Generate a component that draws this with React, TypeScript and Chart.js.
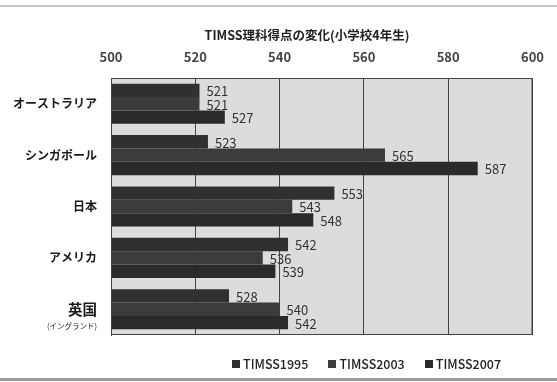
import React, { useEffect, useRef } from "react";
import { Chart, registerables } from "chart.js";

Chart.register(...registerables);

const TITLE = "TIMSS理科得点の変化(小学校4年生)";
const categories = ["オーストラリア", "シンガポール", "日本", "アメリカ", "英国"];
const subLabel = "(イングランド)";
const seriesNames = ["TIMSS1995", "TIMSS2003", "TIMSS2007"];
const timss1995 = [521, 523, 553, 542, 528];
const timss2003 = [521, 565, 543, 536, 540];
const timss2007 = [527, 587, 548, 539, 542];
const barColors = ["#303030", "#3b3b3b", "#2a2a2a"];
const xMin = 500;
const xMax = 600;
const xStep = 20;

const FONT = "'Noto Sans CJK JP', 'Noto Sans', sans-serif";

export default function App() {
  const ref = useRef<HTMLCanvasElement | null>(null);

  useEffect(() => {
    const canvas = ref.current;
    if (!canvas) return;

    const decor = {
      id: "decor",
      beforeDraw(chart: any) {
        const { ctx, chartArea: a } = chart;
        ctx.save();
        ctx.fillStyle = "#dcdcdc";
        ctx.fillRect(a.left, a.top, a.right - a.left, a.bottom - a.top);
        ctx.restore();
      },
      afterDatasetsDraw(chart: any) {
        const { ctx, chartArea: a } = chart;
        ctx.save();
        ctx.strokeStyle = "#444";
        ctx.lineWidth = 1;
        ctx.strokeRect(a.left + 0.5, a.top + 0.5, a.right - a.left - 1, a.bottom - a.top - 1);
        // data labels
        ctx.font = `13px ${FONT}`;
        ctx.fillStyle = "#333";
        ctx.textAlign = "left";
        ctx.textBaseline = "middle";
        chart.data.datasets.forEach((ds: any, di: number) => {
          const meta = chart.getDatasetMeta(di);
          meta.data.forEach((el: any, i: number) => {
            ctx.fillText(String(ds.data[i]), el.x + 7, el.y + 1);
          });
        });
        // title
        ctx.font = `bold 12.5px ${FONT}`;
        ctx.fillStyle = "#222";
        ctx.textAlign = "center";
        ctx.fillText(TITLE, 307, 35);
        // sub label for England
        const yScale = chart.scales.y;
        const yy = yScale.getPixelForValue(4);
        ctx.font = `7.5px ${FONT}`;
        ctx.textAlign = "right";
        ctx.fillStyle = "#222";
        ctx.fillText(subLabel, 97, yy + 17);
        ctx.restore();
      },
    };

    const chart = new Chart(canvas, {
      type: "bar",
      data: {
        labels: categories,
        datasets: seriesNames.map((name, k) => ({
          label: name,
          data: [timss1995, timss2003, timss2007][k],
          backgroundColor: barColors[k],
          borderWidth: 0,
          categoryPercentage: 0.78,
          barPercentage: 1,
        })),
      },
      options: {
        indexAxis: "y",
        responsive: false,
        animation: false,
        layout: { padding: { left: 0, right: 19, top: 0, bottom: 47 } },
        plugins: {
          legend: { display: false },
          title: { display: false },
          tooltip: { enabled: false },
        },
        scales: {
          x: {
            position: "top",
            min: xMin,
            max: xMax,
            ticks: {
              stepSize: xStep,
              color: "#444",
              font: { family: FONT, size: 13, weight: "bold" },
              padding: 13,
            },
            grid: { color: "#444", lineWidth: 1, drawTicks: false },
            border: { display: true, color: "#444" },
            afterFit: (s: any) => {
              s.height = 78;
            },
          },
          y: {
            ticks: {
              color: "#1a1a1a",
              padding: 14,
              font: (c: any) => ({ family: FONT, size: c.index === 4 ? 14.5 : 12, weight: "bold" }),
            },
            grid: { display: false, drawTicks: false },
            border: { display: true, color: "#444" },
            afterFit: (s: any) => {
              s.width = 111;
            },
          },
        },
      },
      plugins: [decor],
    });
    return () => chart.destroy();
  }, []);

  return (
    <div style={{ position: "absolute", left: 0, top: 0, width: 557, height: 382, background: "#fff", overflow: "hidden" }}>
      <div style={{ position: "absolute", left: 0, top: 5, width: 557, height: 2, background: "#c4c4c4" }} />
      <div style={{ position: "absolute", left: 0, top: 378, width: 557, height: 3, background: "#9a9a9a" }} />
      <canvas ref={ref} width={557} height={382} style={{ position: "absolute", left: 0, top: 0 }} />
      <div
        style={{
          position: "absolute",
          left: 232,
          top: 354,
          display: "flex",
          alignItems: "center",
          fontFamily: FONT,
          fontSize: 12.5,
          fontWeight: 500,
          color: "#222",
          whiteSpace: "nowrap",
        }}
      >
        {seriesNames.map((n, k) => (
          <div key={n} style={{ display: "flex", alignItems: "center", marginRight: k < 2 ? 20 : 0 }}>
            <span style={{ display: "inline-block", width: 8, height: 8, background: barColors[k], marginRight: 3 }} />
            <span>{n}</span>
          </div>
        ))}
      </div>
    </div>
  );
}
